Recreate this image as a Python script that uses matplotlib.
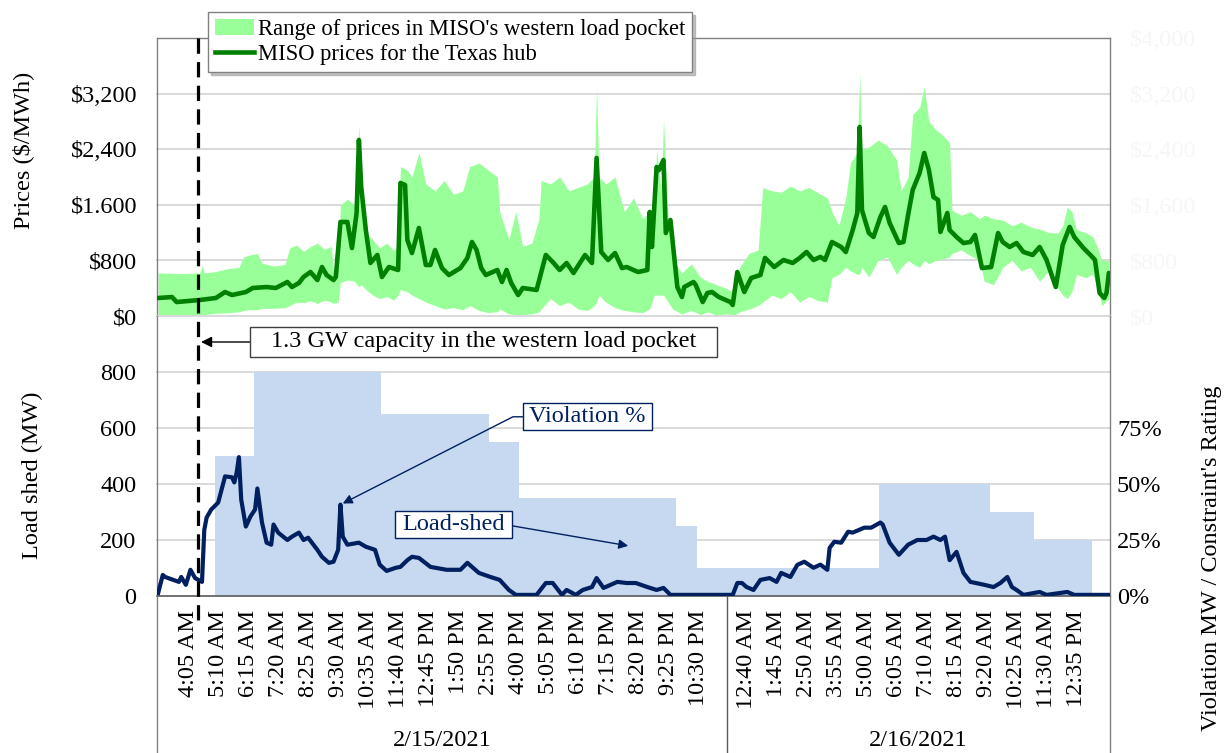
import matplotlib
matplotlib.use('Agg')
import matplotlib.pyplot as plt
from matplotlib.lines import Line2D
from matplotlib.patches import Patch
from matplotlib.path import Path
import matplotlib.transforms as mtransforms
from datetime import datetime, timedelta

plt.rcParams['font.family'] = ['Liberation Serif', 'DejaVu Serif']
plt.rcParams['lines.scale_dashes'] = False

# ---------------- categories (5-minute intervals) ----------------
dates = ['2/15/2021', '2/16/2021']
day_first = ['3:00 AM', '12:00 AM']
day_last = ['11:30 PM', '1:45 PM']

day1_ticks = ['4:05 AM', '5:10 AM', '6:15 AM', '7:20 AM', '8:25 AM', '9:30 AM',
              '10:35 AM', '11:40 AM', '12:45 PM', '1:50 PM', '2:55 PM', '4:00 PM',
              '5:05 PM', '6:10 PM', '7:15 PM', '8:20 PM', '9:25 PM', '10:30 PM']
day2_ticks = ['12:40 AM', '1:45 AM', '2:50 AM', '3:55 AM', '5:00 AM', '6:05 AM',
              '7:10 AM', '8:15 AM', '9:20 AM', '10:25 AM', '11:30 AM', '12:35 PM']

# ---------------- data (x = 5-minute interval number) ----------------
price_idx = [0, 6, 8, 18, 25, 29, 32, 38, 41, 47, 51, 56, 58, 61, 63, 66, 69, 71, 73, 76,
             77, 79, 82, 84, 86, 87, 88, 90, 92, 95, 97, 100, 104, 105, 107, 108, 110, 113,
             116, 118, 120, 123, 126, 131, 134, 136, 138, 140, 142, 147, 149, 151, 153, 156,
             158, 164, 168, 171, 174, 177, 180, 185, 188, 190, 192, 195, 198, 201, 203, 208,
             212, 213, 214, 216, 217, 219, 220, 222, 225, 227, 228, 232, 233, 236, 238, 240,
             243, 248, 249, 251, 254, 257, 261, 263, 267, 271, 275, 278, 281, 284, 287, 289,
             292, 296, 298, 301, 303, 304, 305, 308, 310, 313, 315, 317, 321, 323, 325, 327,
             330, 332, 334, 336, 338, 339, 342, 343, 346, 349, 352, 354, 357, 361, 364, 366,
             369, 372, 375, 379, 382, 385, 389, 392, 395, 397, 401, 404, 406, 408, 410, 411, 412]
price_val = [259, 273, 201, 230, 259, 345, 302, 345, 403, 417, 403, 489, 417, 475, 561, 633, 518, 705, 590, 518,
             561, 1353, 1353, 978, 1482, 2533, 1856, 1237, 763, 878, 561, 705, 662, 1914, 1885, 1094, 906, 1266,
             734, 734, 950, 690, 590, 690, 835, 1065, 950, 690, 590, 662, 489, 662, 475, 302,
             403, 374, 878, 777, 662, 763, 619, 878, 763, 2274, 921, 806, 906, 690, 705, 633,
             662, 1497, 993, 2144, 2100, 2245, 1194, 1381, 417, 273, 417, 489, 445, 201, 331, 345,
             273, 201, 158, 633, 345, 547, 590, 835, 705, 806, 763, 835, 921, 806, 850, 806,
             1065, 993, 921, 1237, 1482, 2720, 1525, 1194, 1137, 1425, 1569, 1338, 1050, 1065, 1453, 1813,
             2058, 2345, 2101, 1712, 1670, 1209, 1482, 1237, 1137, 1050, 1065, 1166, 690, 705, 1194, 1065,
             993, 1050, 921, 878, 993, 806, 417, 1022, 1281, 1137, 978, 878, 806, 331, 259, 331, 619]

range_idx = [0, 10, 18, 19, 20, 25, 30, 35, 37, 40, 43, 45, 50, 55, 57, 60, 63, 66, 69, 72,
             75, 76, 78, 79, 82, 85, 87, 88, 90, 93, 96, 99, 102, 104, 105, 108, 110, 113, 116, 120,
             124, 128, 132, 135, 139, 143, 147, 148, 152, 155, 158, 162, 165, 166, 170, 174, 178, 182, 186, 189,
             190, 191, 194, 198, 202, 206, 210, 213, 215, 216, 218, 219, 221, 223, 227, 231, 235, 238, 242, 246,
             250, 252, 256, 260, 262, 266, 270, 274, 278, 282, 286, 290, 292, 295, 298, 300, 303, 304, 305, 308,
             312, 316, 320, 322, 325, 327, 330, 332, 334, 337, 340, 343, 344, 348, 352, 356, 358, 362, 366, 370,
             374, 378, 382, 386, 390, 392, 394, 396, 398, 402, 405, 407, 409, 412]
range_lo = [20, 15, 15, 20, 20, 40, 45, 60, 80, 90, 90, 110, 110, 120, 150, 200, 190, 220, 180, 230,
            200, 180, 200, 480, 520, 500, 420, 450, 380, 300, 250, 280, 230, 300, 380, 350, 300, 250, 200, 150,
            100, 120, 90, 150, 80, 50, 60, 100, 30, 20, 20, 30, 60, 100, 250, 150, 200, 100, 80, 150,
            200, 300, 200, 120, 80, 60, 50, 100, 300, 300, 300, 300, 200, 100, 30, 80, 20, 60, 10, 30,
            20, 60, 100, 150, 200, 300, 250, 350, 200, 280, 220, 200, 550, 600, 700, 650, 600, 600, 700, 560,
            800, 850, 600, 700, 800, 750, 700, 800, 750, 800, 820, 850, 900, 950, 870, 800, 500, 450, 700, 800,
            650, 700, 500, 650, 400, 300, 250, 350, 600, 550, 600, 400, 150, 250]
range_hi = [620, 610, 620, 720, 620, 640, 680, 700, 850, 880, 900, 760, 720, 740, 980, 1020, 930, 1000, 1050, 960,
            1000, 660, 700, 1600, 1680, 1600, 2750, 1700, 1200, 1100, 980, 1050, 950, 1000, 2150, 2100, 2000, 2350, 1900, 1800,
            1950, 1750, 1800, 2150, 2200, 2100, 2000, 1500, 1100, 1500, 1000, 1050, 1400, 1950, 1900, 2000, 1800, 1850, 1900, 2000,
            3320, 2000, 1900, 2000, 1500, 1700, 1400, 1500, 1500, 2390, 1800, 2820, 1400, 800, 620, 750, 560, 500, 450, 400,
            330, 700, 900, 950, 1850, 1800, 1780, 1870, 1800, 1850, 1770, 1700, 1500, 1300, 1700, 2200, 2350, 3500, 2400, 2430,
            2530, 2450, 2245, 1800, 2000, 2900, 3000, 3300, 2800, 2680, 2600, 2490, 1525, 1450, 1500, 1400, 1450, 1400, 1380, 1300,
            1350, 1280, 1250, 1200, 1194, 1300, 1570, 1500, 1240, 1200, 1140, 1000, 800, 800]

# load shed (MW): steps [start, end) in intervals
ls_start = [25, 42, 97, 144, 157, 225, 234, 313, 361, 380]
ls_end = [42, 97, 144, 157, 225, 234, 313, 361, 380, 405]
ls_mw = [500, 800, 650, 550, 350, 250, 100, 400, 300, 200]

viol_idx = [0, 2, 3, 9, 10, 12, 14, 16, 19, 20, 21, 23, 26, 29, 32, 33, 34, 35, 36, 38,
            40, 42, 43, 45, 47, 49, 50, 52, 56, 58, 61, 63, 65, 69, 71, 74, 76, 78, 79, 80,
            82, 87, 90, 94, 96, 99, 103, 105, 108, 110, 113, 118, 125, 131, 134, 139, 144, 148, 152, 155,
            164, 168, 171, 175, 177, 181, 184, 188, 190, 193, 199, 203, 207, 212, 216, 219, 222, 247, 249, 251,
            253, 255, 258, 261, 265, 268, 270, 274, 277, 280, 284, 287, 290, 291, 293, 296, 299, 301, 306, 309,
            313, 314, 317, 321, 325, 329, 333, 336, 339, 341, 343, 346, 349, 352, 358, 362, 365, 368, 370, 372,
            375, 382, 385, 394, 397, 412]
viol_pct = [1.3, 9.4, 8.5, 6.3, 8.5, 5.0, 11.7, 8.0, 6.3, 29.6, 35.0, 38.6, 41.7, 53.4, 53.0, 50.7, 55.0, 62.0, 43.0, 31.0,
            35.5, 38.6, 48.0, 32.8, 23.8, 22.9, 31.9, 28.3, 25.0, 26.5, 28.3, 25.0, 26.0, 20.6, 17.5, 14.8, 15.3, 20.6, 40.8, 26.5,
            22.9, 23.8, 22.0, 20.6, 14.0, 11.2, 12.6, 13.0, 16.0, 17.5, 17.0, 13.0, 11.7, 11.7, 14.8, 10.3, 8.5, 7.2, 2.7, 0.5,
            0.5, 5.8, 5.8, 0.5, 2.7, 0.5, 2.7, 4.0, 8.0, 3.6, 6.3, 5.8, 5.8, 4.0, 2.7, 3.6, 0.5, 0.5, 0.5, 5.8,
            5.8, 4.0, 2.7, 7.2, 8.0, 6.3, 10.3, 8.5, 13.9, 15.3, 12.6, 14.0, 11.7, 21.5, 24.2, 23.8, 28.7, 28.3, 30.5, 30.5,
            32.8, 31.9, 23.8, 18.4, 22.9, 25.0, 25.0, 26.5, 25.0, 26.5, 16.0, 19.7, 10.3, 6.3, 5.0, 4.0, 5.8, 8.5, 4.0, 2.7,
            0.5, 1.8, 0.5, 1.8, 0.5, 0.5]

capacity_event_idx = 17.3   # 1.3 GW capacity in the western load pocket

price_ticks = [0, 800, 1600, 2400, 3200]
price_ticklabels = ['$0', '$800', '$1.600', '$2,400', '$3,200']
price_ticks_r = [0, 800, 1600, 2400, 3200, 4000]
price_ticklabels_r = ['$0', '$800', '$1,600', '$2,400', '$3,200', '$4,000']
shed_ticks = [0, 200, 400, 600, 800]
viol_ticks = [0, 25, 50, 75]
viol_ticklabels = ['0%', '25%', '50%', '75%']

# ---------------- build category timeline ----------------
cats = []
for d, a, b in zip(dates, day_first, day_last):
    t = datetime.strptime(a, '%I:%M %p')
    e = datetime.strptime(b, '%I:%M %p')
    while t <= e:
        cats.append((d, t))
        t += timedelta(minutes=5)
N = len(cats)

def cat_index(d, label):
    return cats.index((d, datetime.strptime(label, '%I:%M %p')))

tick_pos = [cat_index(dates[0], s) for s in day1_ticks] + [cat_index(dates[1], s) for s in day2_ticks]
tick_lab = day1_ticks + day2_ticks
day_bounds = []
for d in dates:
    ids = [i for i, c in enumerate(cats) if c[0] == d]
    day_bounds.append((ids[0], ids[-1]))

# ---------------- styling ----------------
FS = 17.5
GREEN_FILL = '#99ff99'
GREEN_LINE = '#008000'
BLUE_FILL = '#c6d9f1'
NAVY = '#002060'
GRID = '#d9d9d9'
SPINE = '#808080'

W, H = 1224, 753
fig = plt.figure(figsize=(W / 100, H / 100), dpi=100)
L, R = 157, 1110
def fx(px): return px / W
def fy(py): return 1 - py / H

ax_top = fig.add_axes([fx(L), fy(316), fx(R) - fx(L), fy(38) - fy(316)])
ax_bot = fig.add_axes([fx(L), fy(596), fx(R) - fx(L), fy(316) - fy(596)])

# ---- top panel: prices ----
ax_top.set_xlim(-0.5, N - 0.5)
ax_top.set_ylim(0, 4000)
for v in price_ticks:
    ax_top.axhline(v, color=GRID, lw=1.4, zorder=0, clip_on=False)
ax_top.fill_between(range_idx, range_lo, range_hi, color=GREEN_FILL, lw=0, zorder=2)
ax_top.plot(price_idx, price_val, color=GREEN_LINE, lw=3.3, zorder=3,
            solid_joinstyle='round', solid_capstyle='round')
ax_top.set_xticks([])
ax_top.set_yticks(price_ticks)
ax_top.set_yticklabels(price_ticklabels)
ax_top.tick_params(axis='y', length=0, pad=14, labelsize=FS)
for s in ['top', 'left', 'right']:
    ax_top.spines[s].set_color(SPINE)
    ax_top.spines[s].set_linewidth(1.0)
ax_top.spines['bottom'].set_visible(False)

ax_top2 = ax_top.twinx()
ax_top2.set_ylim(0, 4000)
ax_top2.set_yticks(price_ticks_r)
ax_top2.set_yticklabels(price_ticklabels_r, color='#f6f6f6')
ax_top2.tick_params(axis='y', length=0, pad=14, labelsize=FS)
for s in ax_top2.spines.values():
    s.set_visible(False)

# ---- bottom panel: load shed & violation ----
ax_bot.set_xlim(-0.5, N - 0.5)
ax_bot.set_ylim(0, 1000)
for v in shed_ticks[1:] + [1000]:
    ax_bot.axhline(v, color=GRID, lw=1.4, zorder=0, clip_on=False)
ax_bot.bar([s - 0.5 for s in ls_start], ls_mw, width=[e - s for s, e in zip(ls_start, ls_end)],
           align='edge', color=BLUE_FILL, lw=0, zorder=1)
ax_bot.set_yticks(shed_ticks)
ax_bot.tick_params(axis='y', length=0, pad=15, labelsize=FS)
ax_bot.set_xticks(tick_pos)
ax_bot.set_xticklabels(tick_lab, rotation=90)
ax_bot.tick_params(axis='x', length=0, pad=10, labelsize=FS)
ax_bot.spines['top'].set_visible(False)
for s in ['left', 'right']:
    ax_bot.spines[s].set_color(SPINE)
    ax_bot.spines[s].set_linewidth(1.0)
ax_bot.spines['bottom'].set_color('#595959')
ax_bot.spines['bottom'].set_linewidth(1.2)

ax_v = ax_bot.twinx()
ax_v.set_ylim(0, 125)
ax_v.plot(viol_idx, viol_pct, color=NAVY, lw=3.0, zorder=3, solid_joinstyle='round')
ax_v.set_yticks(viol_ticks)
ax_v.set_yticklabels(viol_ticklabels)
ax_v.tick_params(axis='y', length=0, pad=5, labelsize=FS)
for s in ax_v.spines.values():
    s.set_visible(False)

# ---- custom padded box ----
def padded_box(padx, pady):
    def box(x0, y0, width, height, mutation_size):
        px, py = padx * mutation_size, pady * mutation_size
        a, b = x0 - px, y0 - py
        c, d = x0 + width + px, y0 + height + py
        return Path([(a, b), (c, b), (c, d), (a, d), (a, b)], closed=True)
    return box

# ---- annotations ----
ax_v.annotate('1.3 GW capacity in the western load pocket', xy=(capacity_event_idx + 1.3, 113.4),
              xytext=(141, 113.4), ha='center', va='center', fontsize=FS, color='black',
              bbox=dict(boxstyle=padded_box(0.85, 0.18), fc='white', ec='#404040', lw=1.0),
              arrowprops=dict(arrowstyle='-|>', color='black', lw=1.0, mutation_scale=16,
                              relpos=(0, 0.5), shrinkA=0, shrinkB=0),
              annotation_clip=False, zorder=6)
ax_v.annotate('Violation %', xy=(80, 41.3), xytext=(186, 80), ha='center', va='center',
              fontsize=FS, color=NAVY,
              bbox=dict(boxstyle=padded_box(0.25, 0.12), fc='white', ec=NAVY, lw=1.0),
              arrowprops=dict(arrowstyle='-|>', color=NAVY, lw=1.0, mutation_scale=14,
                              relpos=(0, 0.5), shrinkA=0, shrinkB=0,
                              connectionstyle='angle,angleA=0,angleB=27,rad=0'),
              zorder=6)
ax_v.annotate('Load-shed', xy=(203.7, 22.4), xytext=(128, 31.9), ha='center', va='center',
              fontsize=FS, color=NAVY,
              bbox=dict(boxstyle=padded_box(0.28, 0.12), fc='white', ec=NAVY, lw=1.0),
              arrowprops=dict(arrowstyle='-|>', color=NAVY, lw=1.0, mutation_scale=14,
                              relpos=(1, 0.5), shrinkA=0, shrinkB=0),
              zorder=6)

# ---- figure-level lines ----
blend = mtransforms.blended_transform_factory(ax_bot.transData, fig.transFigure)
fig.add_artist(Line2D([capacity_event_idx, capacity_event_idx], [fy(38), fy(622)], transform=blend,
                      color='black', lw=2.3, dashes=(11, 6), zorder=7))
fig.add_artist(Line2D([fx(L), fx(L)], [0, fy(596)], color=SPINE, lw=1.0))
fig.add_artist(Line2D([fx(R), fx(R)], [0, fy(596)], color=SPINE, lw=1.0))
sep = day_bounds[0][1] + 0.5
fig.add_artist(Line2D([sep, sep], [0, fy(596)], transform=blend, color='#595959', lw=1.0))

for d, (a, b) in zip(dates, day_bounds):
    fig.text((a + b) / 2, fy(741), d, transform=blend, ha='center', va='center', fontsize=FS)

# ---- axis titles ----
fig.text(fx(23), fy(150), 'Prices ($/MWh)', rotation=90, ha='center', va='center', fontsize=FS)
fig.text(fx(32), fy(475), 'Load shed (MW)', rotation=90, ha='center', va='center', fontsize=FS)
fig.text(fx(1211), fy(558), "Violation MW / Constraint's Rating", rotation=90,
         ha='center', va='center', fontsize=FS)

# ---- legend ----
handles = [Patch(facecolor=GREEN_FILL, edgecolor='none'),
           Line2D([], [], color=GREEN_LINE, lw=3.3)]
labels = ["Range of prices in MISO's western load pocket", 'MISO prices for the Texas hub']
leg = fig.legend(handles, labels, loc='upper left', bbox_to_anchor=(fx(208), fy(12)),
                 frameon=True, fancybox=False, shadow={'color': '#9a9a9a', 'alpha': 0.6},
                 edgecolor='#808080', framealpha=1, fontsize=16.3, handlelength=1.75,
                 handletextpad=0.15, borderpad=0.3, labelspacing=0.2, borderaxespad=0)
leg.get_frame().set_linewidth(1.0)

fig.savefig('out.png', dpi=100)
